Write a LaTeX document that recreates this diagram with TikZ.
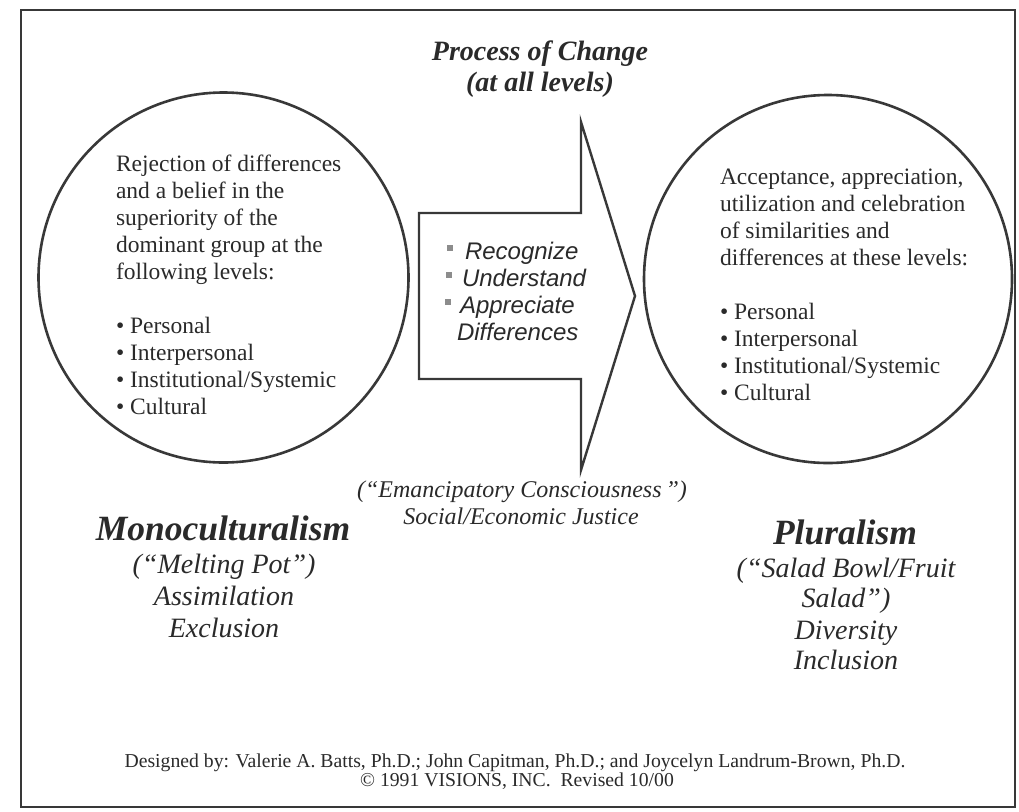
\documentclass[tikz,border=0pt]{standalone}
\usepackage{fontspec}
\setmainfont{Liberation Serif}
\newfontfamily\arialfont{Liberation Sans}
\definecolor{ink}{HTML}{2A2A2A}
\definecolor{rule}{HTML}{383838}
\definecolor{squaregray}{HTML}{8C8C8C}

\begin{document}
\begin{tikzpicture}[x=1pt,y=-1pt,
  every node/.style={inner sep=0pt, outer sep=0pt, text=ink},
  frame/.style={draw=rule, line width=2.6pt},
  ring/.style={draw=rule, line width=2.6pt, circle, minimum size=370pt},
  blockarrow/.style={draw=rule, line width=2.4pt, line join=miter},
  bodytext/.style={font=\fontsize{23.5}{27}\selectfont, anchor=base west},
  title/.style={font=\fontsize{28}{31}\selectfont\bfseries\itshape, anchor=base},
  bigname/.style={font=\fontsize{35.5}{40}\selectfont\bfseries\itshape, anchor=base},
  subname/.style={font=\fontsize{28}{32}\selectfont\itshape, anchor=base},
  middletext/.style={font=\fontsize{24}{27}\selectfont\itshape, anchor=base},
  steptext/.style={font=\arialfont\fontsize{24}{27}\selectfont\itshape, anchor=base west},
  square/.style={fill=squaregray, minimum size=6.5pt},
  credit/.style={font=\fontsize{19.7}{22}\selectfont, anchor=base}
]
\useasboundingbox (0,0) rectangle (1019,811);
\fill[white] (0,0) rectangle (1019,811);

% outer border
\draw[frame] (21,10) rectangle (1015,807);

% title
\node[title] (change) at (540,60) {Process of Change};
\node[title] (levels) at (540,91) {(at all levels)};

% the two circles
\node[ring] (mono) at (223.5,277.5) {};
\node[ring, minimum size=368pt] (plural) at (828,279) {};

% block arrow between the circles
\coordinate (sa) at (419,213);
\coordinate (sb) at (581,213);
\coordinate (ha) at (581,122);
\coordinate (tip) at (635,296);
\coordinate (hb) at (581,470);
\coordinate (sc) at (581,379);
\coordinate (sd) at (419,379);
\draw[blockarrow] (sa) -- (sb) -- (ha) -- (tip) -- (hb) -- (sc) -- (sd) -- cycle;

% steps inside the arrow
\node[square] (q1) at (450,248) {};
\node[square] (q2) at (449,275) {};
\node[square] (q3) at (448,302) {};
\node[steptext] (s1) at (465,259) {Recognize};
\node[steptext] (s2) at (462,286) {Understand};
\node[steptext] (s3) at (460,313) {Appreciate};
\node[steptext] (s4) at (457,340) {Differences};

% text in the left circle
\node[bodytext] (monotext) at (116,171) {\begin{tabular}[t]{@{}l@{}}
Rejection of differences\\
and a belief in the\\
superiority of the\\
dominant group at the\\
following levels:\\
\\
• Personal\\
• Interpersonal\\
• Institutional/Systemic\\
• Cultural
\end{tabular}};

% text in the right circle
\node[bodytext] (pluraltext) at (720,184) {\begin{tabular}[t]{@{}l@{}}
Acceptance, appreciation,\\
utilization and celebration\\
of similarities and\\
differences at these levels:\\
\\
• Personal\\
• Interpersonal\\
• Institutional/Systemic\\
• Cultural
\end{tabular}};

% text under the arrow
\node[middletext] (eman) at (522,497) {(“Emancipatory Consciousness\,”)};
\node[middletext] (justice) at (521,524) {Social/Economic Justice};

% left caption
\node[bigname] (mononame) at (223,540) {Monoculturalism};
\node[subname] (melt) at (224,573) {(“Melting Pot”)};
\node[subname] (assim) at (224,605) {Assimilation};
\node[subname] (excl) at (224,637) {Exclusion};

% right caption
\node[bigname] (pluralname) at (845,544) {Pluralism};
\node[subname] (salad) at (846,577) {(“Salad Bowl/Fruit};
\node[subname] (salad2) at (846,607) {Salad”)};
\node[subname] (div) at (846,639) {Diversity};
\node[subname] (incl) at (846,669) {Inclusion};

% credits
\node[credit] (designers) at (515,767) {Designed by: Valerie A. Batts, Ph.D.; John Capitman, Ph.D.; and Joycelyn Landrum-Brown, Ph.D.};
\node[credit] (copyright) at (517,786) {© 1991 VISIONS, INC.\ \ Revised 10/00};
\end{tikzpicture}
\end{document}
